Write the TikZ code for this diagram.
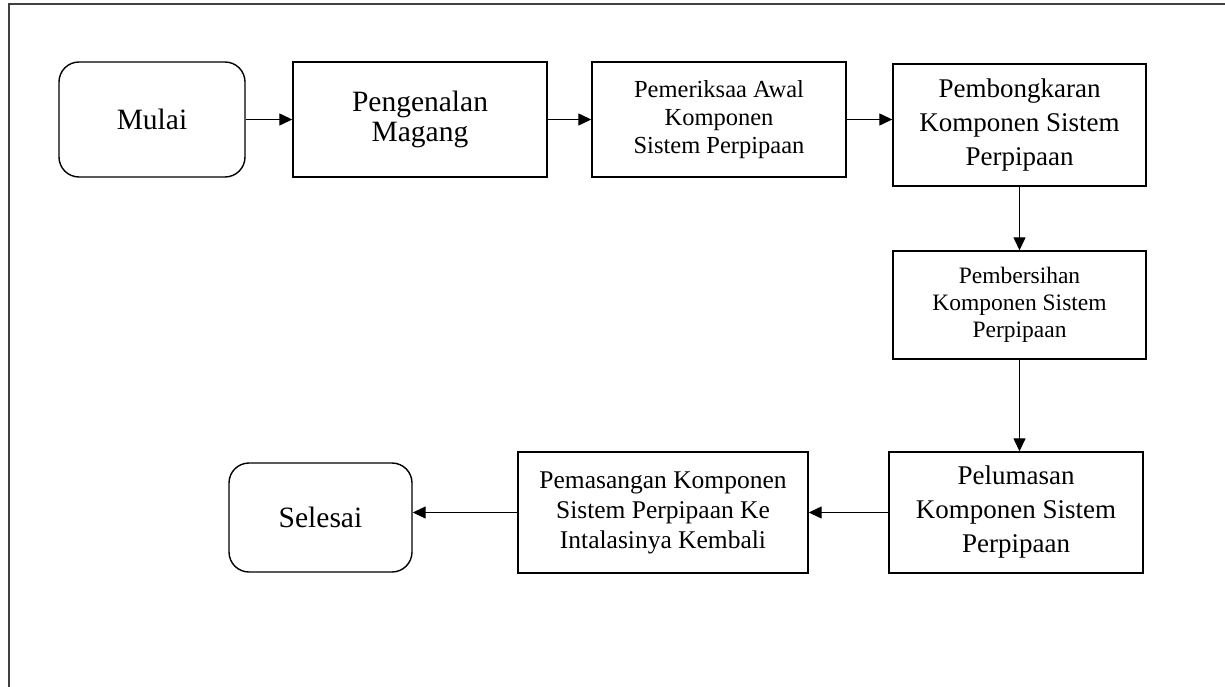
\documentclass[tikz,border=0pt]{standalone}
\usepackage{fontspec}
\setmainfont{Liberation Serif}
\usetikzlibrary{arrows.meta}
\newcommand{\bigtxt}{\fontsize{29.5}{30}\selectfont}
\newcommand{\midtxt}{\fontsize{27}{34}\selectfont}
\newcommand{\pasangtxt}{\fontsize{25.5}{30}\selectfont}
\newcommand{\periksatxt}{\fontsize{24.5}{28}\selectfont}
\newcommand{\bersihtxt}{\fontsize{23.5}{27}\selectfont}
\begin{document}
\begin{tikzpicture}[x=1pt, y=-1pt,
		box/.style={draw, line width=1.4pt, align=center, inner sep=0pt},
		term/.style={box, rounded corners=20pt},
		arr/.style={-{Triangle[length=13pt, width=12pt]}, line width=1.3pt},
		frame/.style={draw=black!75, line width=1.6pt}]
		\useasboundingbox (0,0) rectangle (1225,687);
		\draw[frame] (9,687) -- (9,4) -- (1225,4);
		
		\node[term, minimum width=186pt, minimum height=115pt, font=\bigtxt] (mulai) at (152,119.5) {Mulai};
		\node[box, minimum width=254pt, minimum height=115pt, font=\bigtxt] (kenal) at (420,119.5) {Pengenalan\\Magang};
		\node[box, minimum width=254pt, minimum height=115pt, font=\periksatxt] (periksa) at (719,119.5) {Pemeriksaa Awal\\Komponen\\Sistem Perpipaan};
		\node[box, minimum width=253pt, minimum height=122pt, font=\midtxt] (bongkar) at (1019.5,125) {Pembongkaran\\Komponen Sistem\\Perpipaan};
		\node[box, minimum width=253pt, minimum height=108pt, font=\bersihtxt] (bersih) at (1019.5,305) {Pembersihan\\Komponen Sistem\\Perpipaan};
		\node[box, minimum width=254pt, minimum height=121pt, font=\midtxt] (lumas) at (1016,512.5) {Pelumasan\\Komponen Sistem\\Perpipaan};
		\node[box, minimum width=290pt, minimum height=121pt, font=\pasangtxt] (pasang) at (663,512.5) {Pemasangan Komponen\\Sistem Perpipaan Ke\\Intalasinya Kembali};
		\node[term, minimum width=183pt, minimum height=109pt, font=\bigtxt] (selesai) at (320.5,517.5) {Selesai};
		
		\path[arr]
		(mulai) edge (kenal)
		(kenal) edge (periksa)
		(periksa.east) edge (periksa.east -| bongkar.west)
		(bongkar) edge (bersih)
		(bersih.south) edge (bersih.south |- lumas.north)
		(lumas) edge (pasang)
		(pasang.west) edge (pasang.west -| selesai.east);
		
	\end{tikzpicture}
\end{document}
